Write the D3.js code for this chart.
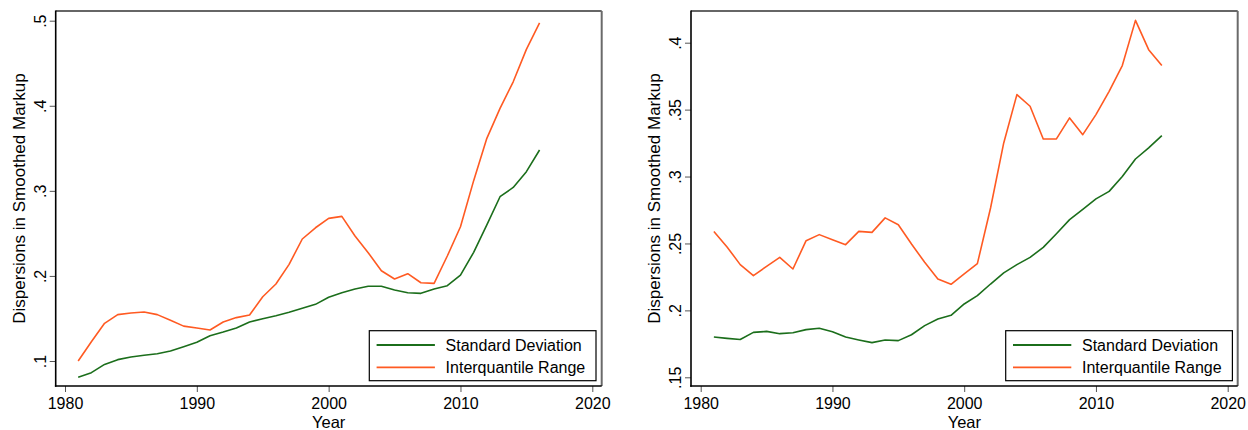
<!DOCTYPE html>
<html>
<head>
<meta charset="utf-8">
<script src="https://cdn.jsdelivr.net/npm/d3@7"></script>
<style>
  html, body { margin: 0; padding: 0; background: #fff; }
  svg { display: block; font-family: "Liberation Sans", Arial, Helvetica, sans-serif; }
</style>
</head>
<body>
<svg id="chart" width="1248" height="430"></svg>
<script>
// ---------- DATA ----------
const yearsLeft = d3.range(1981, 2017);
const sdLeft = [0.081, 0.0863, 0.096, 0.1016, 0.1047, 0.1067, 0.1086, 0.1118, 0.1168, 0.122,
  0.1297, 0.134, 0.1388, 0.1458, 0.1497, 0.1532, 0.1572, 0.1619, 0.1666, 0.1749,
  0.1801, 0.1846, 0.1878, 0.1878, 0.1834, 0.1803, 0.1795, 0.1846, 0.1885, 0.201,
  0.2277, 0.260, 0.2931, 0.304, 0.3225, 0.348];
const iqrLeft = [0.100, 0.1227, 0.1443, 0.1545, 0.1565, 0.1576, 0.1545, 0.148, 0.141, 0.1388,
  0.1364, 0.1458, 0.151, 0.154, 0.1755, 0.1905, 0.2136, 0.2434, 0.2566, 0.2676,
  0.270, 0.2469, 0.2273, 0.2061, 0.1964, 0.2026, 0.192, 0.1913, 0.2234, 0.2578,
  0.312, 0.3617, 0.397, 0.4282, 0.4663, 0.4975];

const yearsRight = d3.range(1981, 2016);
const sdRight = [0.1801, 0.1791, 0.1783, 0.1836, 0.1843, 0.1826, 0.1833, 0.1856, 0.1866, 0.1841,
  0.1801, 0.1779, 0.1759, 0.1779, 0.1774, 0.1818, 0.1886, 0.1935, 0.1963, 0.2048,
  0.211, 0.2197, 0.228, 0.2342, 0.2396, 0.2471, 0.2573, 0.2678, 0.2755, 0.2833,
  0.2889, 0.3001, 0.3131, 0.3214, 0.3306];
const iqrRight = [0.259, 0.2474, 0.2342, 0.226, 0.2329, 0.2396, 0.2309, 0.2521, 0.2566, 0.2528,
  0.2491, 0.259, 0.2583, 0.2691, 0.264, 0.2496, 0.2359, 0.2235, 0.2195, 0.2272,
  0.2349, 0.2765, 0.3251, 0.3612, 0.3525, 0.3281, 0.3281, 0.3438, 0.3313, 0.3463,
  0.3637, 0.3829, 0.4167, 0.3948, 0.3829];

const xTicks = [1980, 1990, 2000, 2010, 2020];
const yTicksLeft = [0.1, 0.2, 0.3, 0.4, 0.5];
const yTicksLeftLabels = [".1", ".2", ".3", ".4", ".5"];
const yTicksRight = [0.15, 0.2, 0.25, 0.3, 0.35, 0.4];
const yTicksRightLabels = [".15", ".2", ".25", ".3", ".35", ".4"];

const seriesNames = ["Standard Deviation", "Interquantile Range"];
const colors = ["#1b6e1b", "#ff5a22"];
const xTitle = "Year";
const yTitle = "Dispersions in Smoothed Markup";

// ---------- DRAW ----------
const svg = d3.select("#chart");

function panel(cfg) {
  const g = svg.append("g");
  const x = d3.scaleLinear().domain([1980, 2020]).range([cfg.x1980, cfg.x2020]);
  const y = d3.scaleLinear().domain(cfg.yDom).range(cfg.yRange);
  const L = cfg.left, R = cfg.right, T = cfg.top, B = cfg.bottom;

  // frame: top and right
  g.append("line").attr("x1", L).attr("x2", R).attr("y1", T).attr("y2", T)
    .attr("stroke", "#333").attr("stroke-width", 1.3);
  g.append("line").attr("x1", R).attr("x2", R).attr("y1", T).attr("y2", B)
    .attr("stroke", "#6a6a6a").attr("stroke-width", 2);

  // series
  const line = d3.line().x(d => x(d[0])).y(d => y(d[1]));
  [cfg.sd, cfg.iqr].forEach((vals, i) => {
    g.append("path")
      .datum(cfg.years.map((yr, j) => [yr, vals[j]]))
      .attr("fill", "none")
      .attr("stroke", colors[i])
      .attr("stroke-width", 1.6)
      .attr("stroke-linejoin", "round")
      .attr("d", line);
  });

  // x axis
  const xAxis = d3.axisBottom(x).tickValues(xTicks).tickFormat(d3.format("d")).tickSize(6).tickPadding(6);
  const gx = g.append("g").attr("transform", `translate(0,${B})`).call(xAxis);
  gx.select(".domain").remove();
  gx.selectAll(".tick line").attr("stroke", "#555").attr("stroke-width", 1);
  gx.selectAll(".tick text").attr("font-size", 16).attr("fill", "#000")
    .attr("font-family", "Liberation Sans, Arial, sans-serif");

  // y axis
  const yAxis = d3.axisLeft(y).tickValues(cfg.yTicks)
    .tickFormat((d, i) => cfg.yLabels[i]).tickSize(6).tickPadding(0);
  const gy = g.append("g").attr("transform", `translate(${L},0)`).call(yAxis);
  gy.select(".domain").remove();
  gy.selectAll(".tick line").attr("stroke", "#555").attr("stroke-width", 1);
  gy.selectAll(".tick text")
    .attr("font-size", 16).attr("fill", "#000")
    .attr("font-family", "Liberation Sans, Arial, sans-serif")
    .attr("x", null).attr("dy", null)
    .attr("text-anchor", "middle")
    .attr("transform", "translate(-10,0) rotate(-90)");

  // axis lines (black)
  g.append("line").attr("x1", L).attr("x2", L).attr("y1", T - 0.6).attr("y2", B + 0.8)
    .attr("stroke", "#000").attr("stroke-width", 1.6);
  g.append("line").attr("x1", L - 0.8).attr("x2", R).attr("y1", B).attr("y2", B)
    .attr("stroke", "#000").attr("stroke-width", 1.6);

  // titles
  g.append("text").attr("x", (L + R) / 2).attr("y", 428)
    .attr("text-anchor", "middle").attr("font-size", 16.5).text(xTitle);
  g.append("text")
    .attr("transform", `translate(${L - 31},${(T + B) / 2}) rotate(-90)`)
    .attr("text-anchor", "middle").attr("font-size", 17).text(yTitle);

  // legend
  const lg = g.append("g");
  lg.append("rect").attr("x", cfg.legX).attr("y", 330.7)
    .attr("width", 226.7).attr("height", 50)
    .attr("fill", "#fff").attr("stroke", "#000").attr("stroke-width", 1.2);
  seriesNames.forEach((name, i) => {
    const ly = 345 + i * 22.3;
    lg.append("line").attr("x1", cfg.legX + 7.3).attr("x2", cfg.legX + 65.6)
      .attr("y1", ly).attr("y2", ly)
      .attr("stroke", colors[i]).attr("stroke-width", 1.8);
    lg.append("text").attr("x", cfg.legX + 76.3).attr("y", ly + 6)
      .attr("font-size", 16).attr("fill", "#000").text(name);
  });
}

panel({
  years: yearsLeft, sd: sdLeft, iqr: iqrLeft,
  x1980: 65, x2020: 592.3,
  yDom: [0.1, 0.5], yRange: [361, 20.7],
  yTicks: yTicksLeft, yLabels: yTicksLeftLabels,
  left: 55.7, right: 601.7, top: 11, bottom: 386,
  legX: 369.3
});

panel({
  years: yearsRight, sd: sdRight, iqr: iqrRight,
  x1980: 700.7, x2020: 1227.7,
  yDom: [0.15, 0.4], yRange: [377.3, 42.7],
  yTicks: yTicksRight, yLabels: yTicksRightLabels,
  left: 691, right: 1237.7, top: 11, bottom: 386,
  legX: 1005.7
});
</script>
</body>
</html>
